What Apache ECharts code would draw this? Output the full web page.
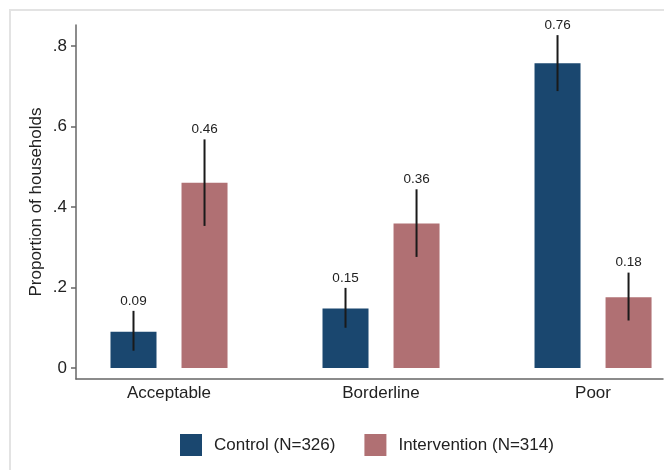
<!DOCTYPE html>
<html><head><meta charset="utf-8">
<script src="https://cdn.jsdelivr.net/npm/echarts@6/dist/echarts.min.js"></script>
<style>html,body{margin:0;padding:0;background:#fff}#c{width:664px;height:470px}</style>
</head><body><div id="c"></div>
<script>
const categories = ['Acceptable', 'Borderline', 'Poor'];
const seriesNames = ['Control (N=326)', 'Intervention (N=314)'];
const controlValues = [0.090, 0.148, 0.757];
const controlLow = [0.043, 0.100, 0.688];
const controlHigh = [0.142, 0.199, 0.827];
const interventionValues = [0.460, 0.359, 0.176];
const interventionLow = [0.353, 0.276, 0.118];
const interventionHigh = [0.568, 0.444, 0.237];
const yTickValues = [0, 0.2, 0.4, 0.6, 0.8];
const yTickLabels = ['0', '.2', '.4', '.6', '.8'];
const yTitle = 'Proportion of households';

const FONT = '"Liberation Sans", Arial, sans-serif';
const BAR_W = 0.217;
const OFFSET = 0.1675;
const colors = ['#1a476f', '#b07073'];
const AXIS_COLOR = '#666';

function makeSeries(name, vals, lo, hi, offset, color) {
  return {
    name: name,
    type: 'custom',
    xAxisIndex: 0, yAxisIndex: 0,
    itemStyle: { color: color },
    encode: { x: 0, y: 1 },
    clip: false,
    data: vals.map((v, i) => [i, v, lo[i], hi[i]]),
    renderItem: function (params, api) {
      const x = api.value(0) + offset;
      const p1 = api.coord([x - BAR_W / 2, api.value(1)]);
      const p2 = api.coord([x + BAR_W / 2, 0]);
      const top = api.coord([x, api.value(3)]);
      const bot = api.coord([x, api.value(2)]);
      return {
        type: 'group',
        children: [
          { type: 'rect', shape: { x: p1[0], y: p1[1], width: p2[0] - p1[0], height: p2[1] - p1[1] },
            style: { fill: color } },
          { type: 'line', shape: { x1: top[0], y1: top[1], x2: bot[0], y2: bot[1] },
            style: { stroke: '#1a1a1a', lineWidth: 2 } },
          { type: 'text', x: top[0], y: top[1] - 10,
            style: { text: api.value(1).toFixed(2), align: 'center', verticalAlign: 'middle',
                     fill: '#222', fontSize: 13.5, fontFamily: FONT } }
        ]
      };
    }
  };
}

const chart = echarts.init(document.getElementById('c'));
chart.setOption({
  animation: false,
  backgroundColor: '#fff',
  graphic: [{
    type: 'rect', z: -10,
    shape: { x: 10, y: 10, width: 720, height: 520 },
    style: { fill: 'none', stroke: '#e3e3e3', lineWidth: 2 }
  }],
  grid: [
    { left: 76, right: 1, top: 46, bottom: 102 },
    { left: 76, right: 1, top: 25, bottom: 91 }
  ],
  legend: {
    data: seriesNames,
    left: 180, top: 434,
    padding: 0,
    icon: 'rect',
    itemWidth: 22, itemHeight: 22, itemGap: 29,
    textStyle: { fontSize: 17, fontFamily: FONT, color: '#222', padding: [0, 0, 0, 7] }
  },
  xAxis: [{
    gridIndex: 0,
    type: 'value',
    min: -0.4387, max: 2.33,
    axisLine: { show: false, onZero: false },
    axisTick: { show: false },
    splitLine: { show: false },
    axisLabel: {
      customValues: [0, 1, 2],
      formatter: v => categories[Math.round(v)],
      fontSize: 17, fontFamily: FONT, color: '#222', margin: 17
    }
  }, {
    gridIndex: 1,
    type: 'value', min: 0, max: 1,
    axisLine: { show: true, onZero: false, lineStyle: { color: AXIS_COLOR, width: 1.5 } },
    axisTick: { show: false }, axisLabel: { show: false }, splitLine: { show: false }
  }],
  yAxis: [{
    gridIndex: 0,
    type: 'value',
    min: 0, max: 0.8, interval: 0.2,
    axisLine: { show: false, onZero: false },
    axisTick: { show: true, inside: false, length: 5, lineStyle: { color: AXIS_COLOR, width: 1.5 } },
    splitLine: { show: false },
    axisLabel: {
      formatter: v => yTickLabels[yTickValues.findIndex(t => Math.abs(t - v) < 1e-6)],
      fontSize: 17, fontFamily: FONT, color: '#222', margin: 9
    }
  }, {
    gridIndex: 1,
    type: 'value', min: 0, max: 1,
    name: yTitle,
    nameLocation: 'middle',
    nameGap: 31,
    nameMoveOverlap: false,
    nameTextStyle: { fontSize: 17, fontFamily: FONT, color: '#222' },
    axisLine: { show: true, onZero: false, lineStyle: { color: AXIS_COLOR, width: 1.5 } },
    axisTick: { show: false }, axisLabel: { show: false }, splitLine: { show: false }
  }],
  series: [
    makeSeries(seriesNames[0], controlValues, controlLow, controlHigh, -OFFSET, colors[0]),
    makeSeries(seriesNames[1], interventionValues, interventionLow, interventionHigh, OFFSET, colors[1])
  ]
});
</script></body></html>
